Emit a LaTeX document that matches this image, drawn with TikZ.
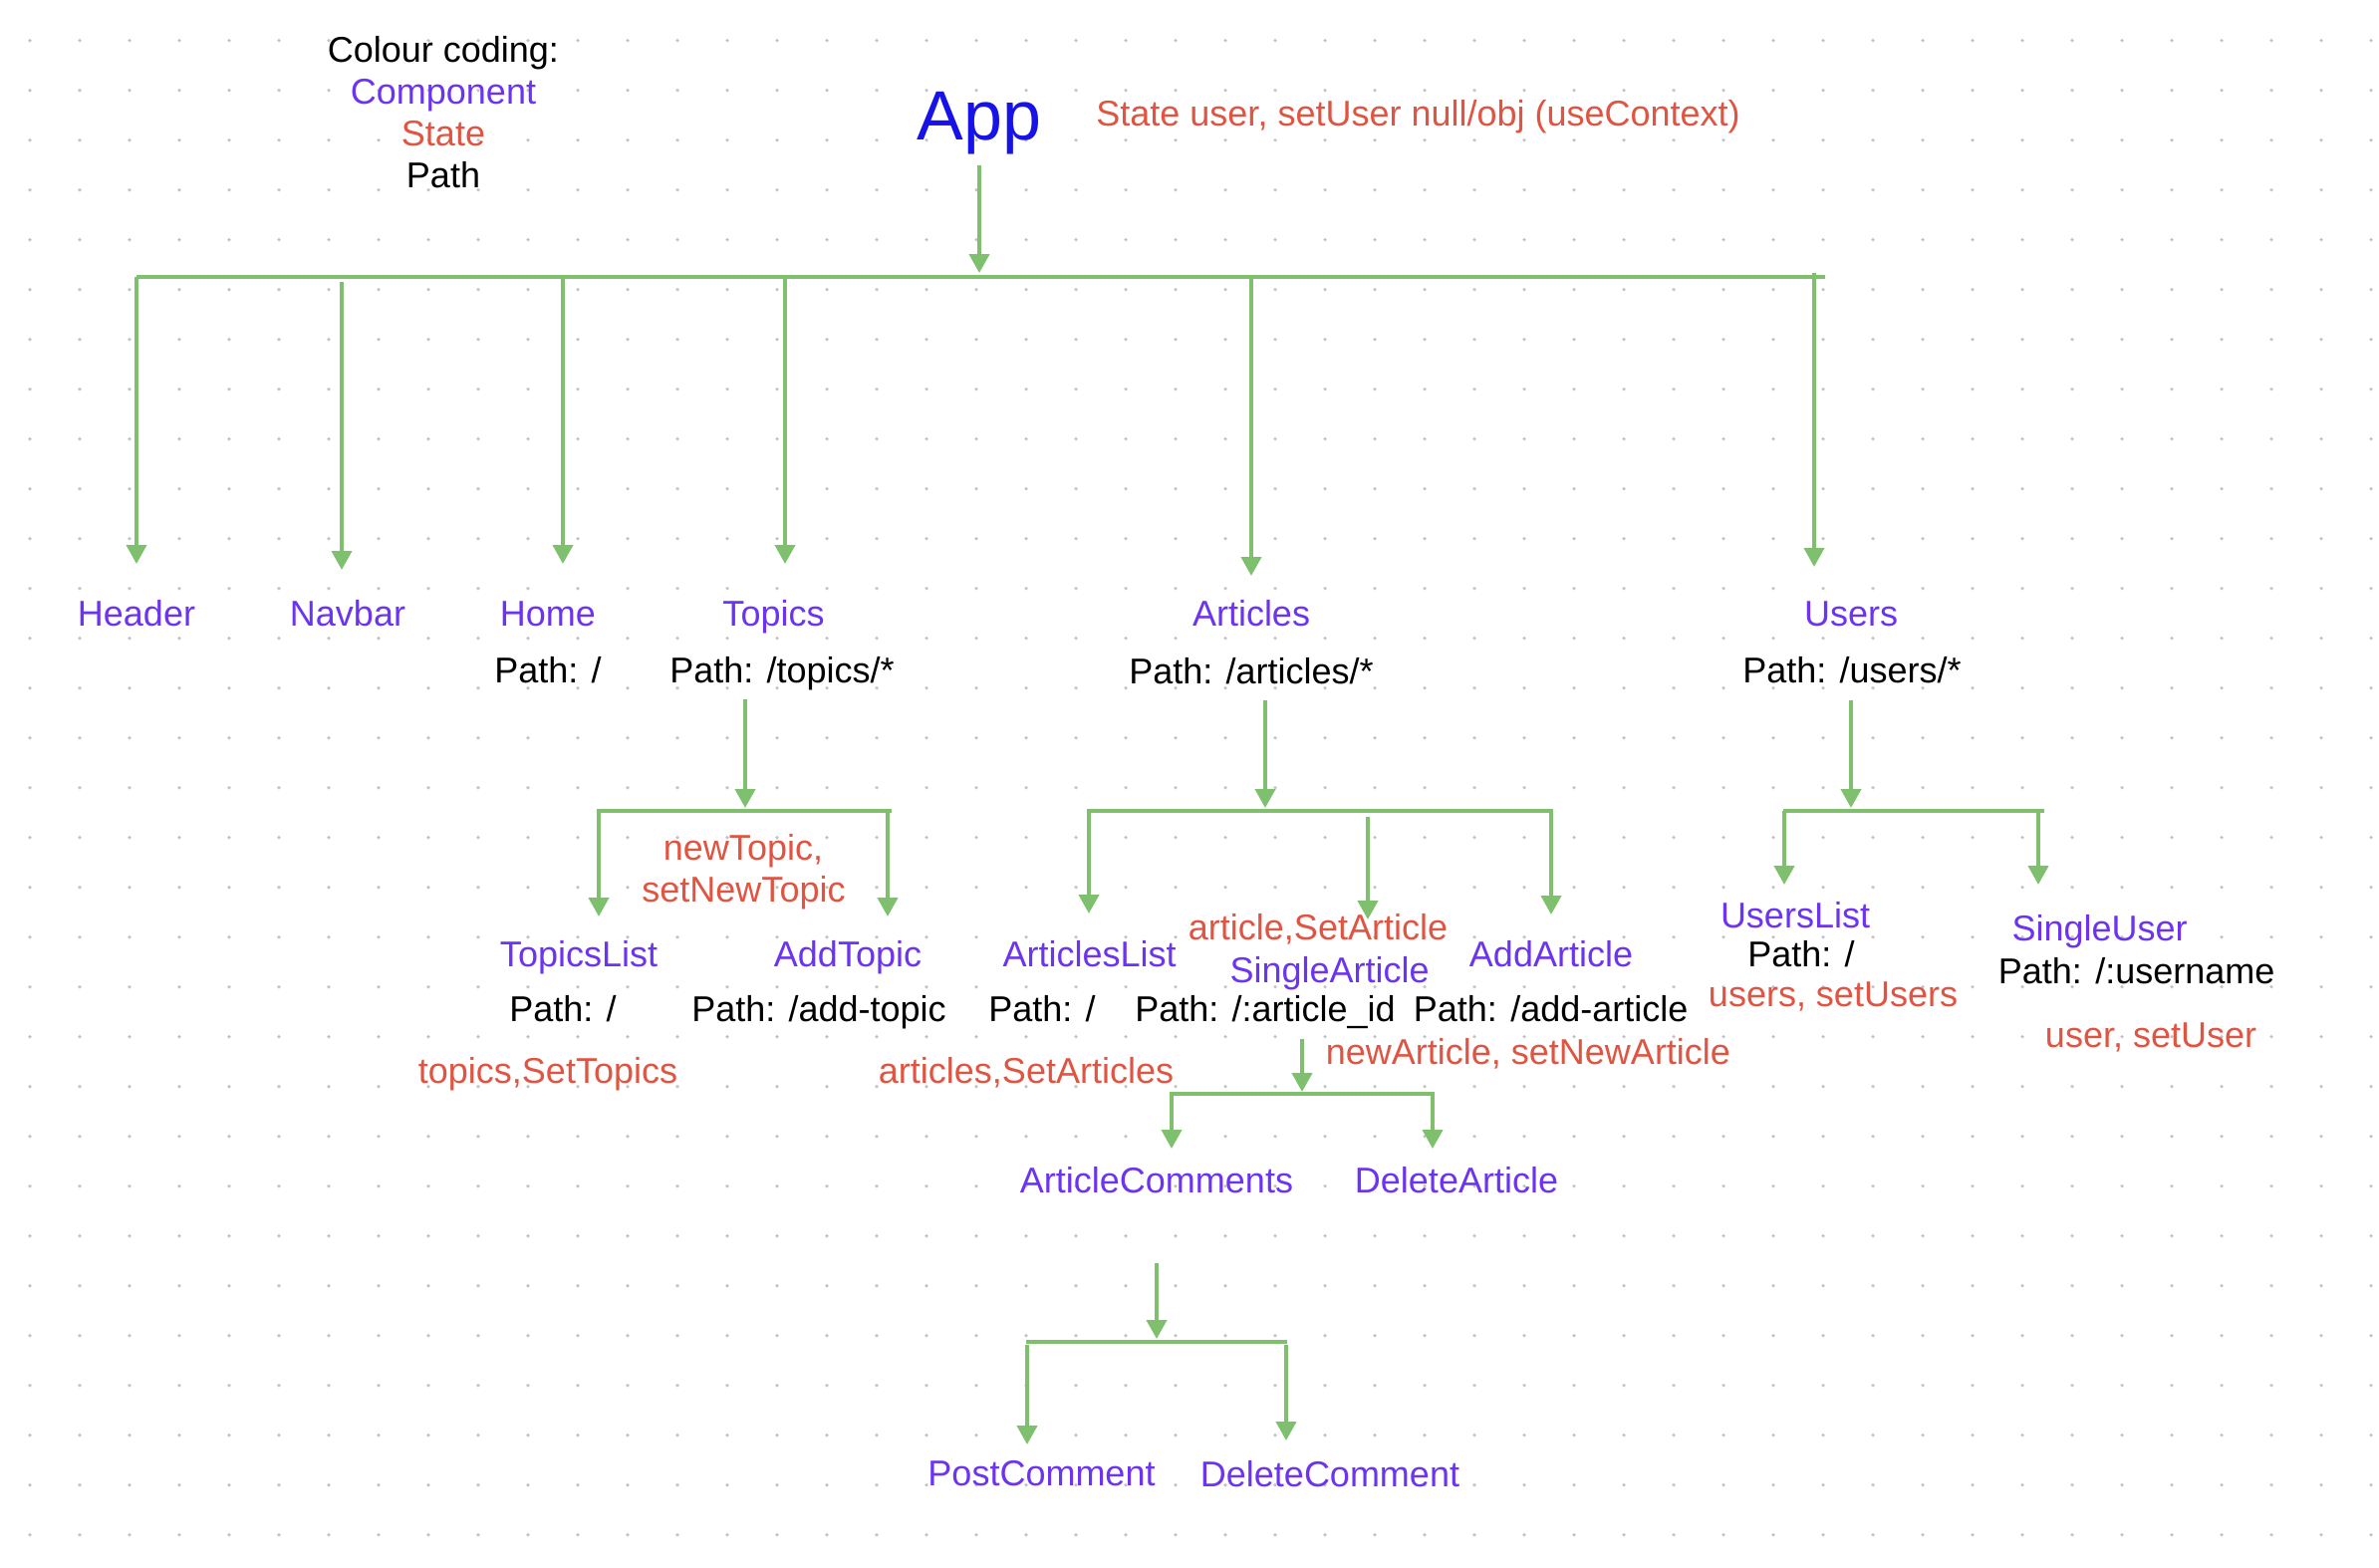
\documentclass[tikz,border=0pt]{standalone}
\usepackage{fontspec}
\setmainfont{Liberation Sans}
\usetikzlibrary{arrows.meta}
\definecolor{compc}{RGB}{108,52,240}
\definecolor{statc}{RGB}{224,84,66}
\definecolor{appc}{RGB}{22,18,232}
\definecolor{lineg}{RGB}{126,192,110}
\definecolor{dotg}{RGB}{196,196,196}
\begin{document}
\begin{tikzpicture}[x=0.5pt,y=-0.5pt,
  txt/.style={anchor=base,inner sep=0pt,font=\fontsize{18}{21}\selectfont},
  cmp/.style={txt,text=compc},
  st/.style={txt,text=statc},
  pth/.style={txt,text=black},
  conn/.style={draw=lineg,line width=2pt},
  arr/.style={conn,-{Triangle[width=10pt,length=9.5pt]}}]
\fill[white] (0,0) rectangle (2388,1574);
\useasboundingbox (0,0) rectangle (2388,1574);
\foreach \i in {0,...,47}{\foreach \j in {0,...,30}{\fill[dotg] ({30+50*\i},{40.7+50*\j}) circle[radius=0.9pt];}}

% legend
\node[pth] (lgtitle) at (445,62.7) {Colour coding:};
\node[cmp] (lgcomp) at (445,104) {Component};
\node[st] (lgstate) at (445,146.7) {State};
\node[pth] (lgpath) at (445,188.3) {Path};

% App
\node[txt,text=appc,font=\fontsize{35}{40}\selectfont] (app) at (983,140) {App};
\node[st,anchor=base west] (appstate) at (1100,126) {State user, setUser null/obj (useContext)};

% level 1
\node[cmp] (header) at (137,628) {Header};
\node[cmp] (navbar) at (349,628) {Navbar};
\node[cmp] (home) at (550,628) {Home};
\node[cmp] (topics) at (776.5,628) {Topics};
\node[cmp] (articles) at (1256,628) {Articles};
\node[cmp] (users) at (1858,628) {Users};
\node[pth] (homep) at (550,685) {Path: /};
\node[pth] (topicsp) at (785,685) {Path: /topics/*};
\node[pth] (articlesp) at (1256,686) {Path: /articles/*};
\node[pth] (usersp) at (1859,685) {Path: /users/*};

% topics subtree
\node[st] (newtopic1) at (746,863) {newTopic,};
\node[st] (newtopic2) at (746.5,905) {setNewTopic};
\node[cmp] (topicslist) at (581,970) {TopicsList};
\node[cmp] (addtopic) at (851,970) {AddTopic};
\node[pth] (topicslistp) at (565,1025) {Path: /};
\node[pth] (addtopicp) at (822,1025) {Path: /add-topic};
\node[st] (topicsst) at (550,1087) {topics,SetTopics};

% articles subtree
\node[cmp] (articleslist) at (1093.6,970) {ArticlesList};
\node[st] (articlest) at (1323,943) {article,SetArticle};
\node[cmp] (singlearticle) at (1334.7,986) {SingleArticle};
\node[cmp] (addarticle) at (1557,970) {AddArticle};
\node[pth] (articleslistp) at (1046,1025) {Path: /};
\node[pth] (singlearticlep) at (1270,1025) {Path: /:article\_id};
\node[pth] (addarticlep) at (1556.6,1025) {Path: /add-article};
\node[st] (articlesst) at (1030,1087) {articles,SetArticles};
\node[st] (newarticlest) at (1534,1068) {newArticle, setNewArticle};
\node[cmp] (articlecomments) at (1161,1197) {ArticleComments};
\node[cmp] (deletearticle) at (1462,1197) {DeleteArticle};
\node[cmp] (postcomment) at (1045.5,1491) {PostComment};
\node[cmp] (deletecomment) at (1335,1492.7) {DeleteComment};

% users subtree
\node[cmp] (userslist) at (1802,931) {UsersList};
\node[pth] (userslistp) at (1808,970) {Path: /};
\node[st] (usersst) at (1840,1010) {users, setUsers};
\node[cmp] (singleuser) at (2107.6,944) {SingleUser};
\node[pth] (singleuserp) at (2144.6,987) {Path: /:username};
\node[st] (userst) at (2159,1051) {user, setUser};

% main bus
\coordinate (appout) at (983,166);
\coordinate (appin) at (983,274);
\coordinate (busL) at (137,278);
\coordinate (busR) at (1832,278);
\draw[arr] (appout) -- (appin);
\draw[conn] (busL) -- (busR);
\draw[arr] (busL) -- (137,566) coordinate (tHeader);
\draw[arr] (343,283) coordinate (sNavbar) -- (343,572) coordinate (tNavbar);
\draw[arr] (565,278) coordinate (sHome) -- (565,566) coordinate (tHome);
\draw[arr] (788,278) coordinate (sTopics) -- (788,566) coordinate (tTopics);
\draw[arr] (1256,280) coordinate (sArticles) -- (1256,578) coordinate (tArticles);
\draw[arr] (1821,274) coordinate (sUsers) -- (1821,569) coordinate (tUsers);

% topics bus
\draw[arr] (748,702) coordinate (tpOut) -- (748,811) coordinate (tpIn);
\draw[conn] (599,814) coordinate (tpL) -- (895,814) coordinate (tpR);
\draw[arr] (601,814) -- (601,920) coordinate (tTopicsList);
\draw[arr] (891,814) -- (891,920) coordinate (tAddTopic);

% articles bus
\draw[arr] (1270,703) coordinate (apOut) -- (1270,811) coordinate (apIn);
\draw[conn] (1091,814) coordinate (apL) -- (1559,814) coordinate (apR);
\draw[arr] (1093,814) -- (1093,917) coordinate (tArticlesList);
\draw[arr] (1373,820) coordinate (sSingle) -- (1373,923) coordinate (tSingle);
\draw[arr] (1557,814) -- (1557,918) coordinate (tAddArticle);

% single article bus
\draw[arr] (1307,1043) coordinate (saOut) -- (1307,1096) coordinate (saIn);
\draw[conn] (1174,1098) coordinate (saL) -- (1440,1098) coordinate (saR);
\draw[arr] (1176,1098) -- (1176,1153) coordinate (tComments);
\draw[arr] (1438,1098) -- (1438,1153) coordinate (tDelArticle);

% comments bus
\draw[arr] (1161,1268) coordinate (acOut) -- (1161,1344) coordinate (acIn);
\draw[conn] (1030,1347) coordinate (acL) -- (1292,1347) coordinate (acR);
\draw[arr] (1031,1350) -- (1031,1450) coordinate (tPost);
\draw[arr] (1291,1350) -- (1291,1446) coordinate (tDelComment);

% users bus
\draw[arr] (1858,703) coordinate (upOut) -- (1858,811) coordinate (upIn);
\draw[conn] (1790,814) coordinate (upL) -- (2052,814) coordinate (upR);
\draw[arr] (1791,814) -- (1791,888) coordinate (tUsersList);
\draw[arr] (2046,814) -- (2046,888) coordinate (tSingleUser);
\end{tikzpicture}
\end{document}
